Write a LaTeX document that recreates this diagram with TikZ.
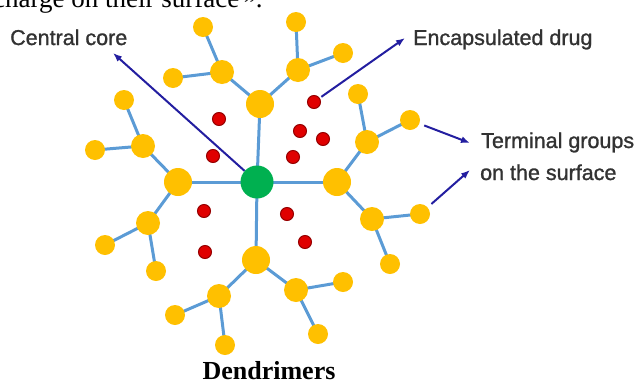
\documentclass[tikz,border=0pt]{standalone}
\usepackage{fontspec}
\setmainfont{Liberation Serif}
\newfontfamily\lsans[FakeBold=1.2]{Liberation Sans}
\usetikzlibrary{arrows.meta}
\pgfdeclarelayer{background}
\pgfsetlayers{background,main}
\definecolor{gold}{RGB}{255,192,0}
\definecolor{coregreen}{RGB}{0,176,80}
\definecolor{drugred}{RGB}{224,0,0}
\definecolor{drugdark}{RGB}{150,0,0}
\definecolor{bondblue}{RGB}{91,155,213}
\definecolor{arrowblue}{RGB}{35,30,160}
\definecolor{labelgray}{RGB}{50,50,50}
\tikzset{
  corenode/.style={circle, fill=coregreen, minimum size=33pt, inner sep=0pt},
  genone/.style={circle, fill=gold, minimum size=28pt, inner sep=0pt},
  gentwo/.style={circle, fill=gold, minimum size=24pt, inner sep=0pt},
  termnode/.style={circle, fill=gold, minimum size=20pt, inner sep=0pt},
  drugnode/.style={circle, fill=drugred, draw=drugdark, line width=1pt, minimum size=13pt, inner sep=0pt},
  bond/.style={draw=bondblue, line width=3pt},
  pointer/.style={draw=arrowblue, line width=2pt, -{Latex[length=9pt,width=7pt]}},
  callout/.style={text=labelgray, font=\lsans\fontsize{21.5}{25}\selectfont, inner sep=0pt, anchor=base west},
}
\begin{document}
\begin{tikzpicture}[x=1pt,y=-1pt]
\useasboundingbox (0,0) rectangle (640,381);
\begin{scope}
\clip (0,0) rectangle (640,381);
\node[anchor=base west, inner sep=0pt, font=\fontsize{27}{30}\selectfont] (toptext) at (-7,7) {charge on their surface\,\raisebox{-6pt}{”}.};
\end{scope}

% core and first generation
\node[corenode] (core) at (257,182) {};
\node[genone] (U) at (260,104) {};
\node[genone] (L) at (178,182) {};
\node[genone] (R) at (337,182) {};
\node[genone] (D) at (256,260) {};
% second generation
\node[gentwo] (U1) at (222,72) {};
\node[gentwo] (U2) at (298,70) {};
\node[gentwo] (L1) at (143,146) {};
\node[gentwo] (L2) at (148,223) {};
\node[gentwo] (D1) at (219,296) {};
\node[gentwo] (D2) at (296,290) {};
\node[gentwo] (R1) at (367,142) {};
\node[gentwo] (R2) at (372,219) {};
% terminal groups
\node[termnode] (U1a) at (203,27) {};
\node[termnode] (U1b) at (173,78) {};
\node[termnode] (U2a) at (296,22) {};
\node[termnode] (U2b) at (343,53) {};
\node[termnode] (L1a) at (124,100) {};
\node[termnode] (L1b) at (95,150) {};
\node[termnode] (L2a) at (105,245) {};
\node[termnode] (L2b) at (156,271) {};
\node[termnode] (D1a) at (175,315) {};
\node[termnode] (D1b) at (225,345) {};
\node[termnode] (D2a) at (343,282) {};
\node[termnode] (D2b) at (318,334) {};
\node[termnode] (R1a) at (358,94) {};
\node[termnode] (R1b) at (410,120) {};
\node[termnode] (R2a) at (420,214) {};
\node[termnode] (R2b) at (390,264) {};
% drug molecules
\node[drugnode] (d1) at (219,119) {};
\node[drugnode] (d2) at (213,156) {};
\node[drugnode] (d3) at (314,102) {};
\node[drugnode] (d4) at (300,131) {};
\node[drugnode] (d5) at (323,139) {};
\node[drugnode] (d6) at (293,157) {};
\node[drugnode] (d7) at (204,211) {};
\node[drugnode] (d8) at (205,252) {};
\node[drugnode] (d9) at (287,214) {};
\node[drugnode] (d10) at (305,242) {};

\begin{pgfonlayer}{background}
\foreach \a/\b in {core/U,core/L,core/R,core/D,
  U/U1,U/U2,L/L1,L/L2,D/D1,D/D2,R/R1,R/R2,
  U1/U1a,U1/U1b,U2/U2a,U2/U2b,L1/L1a,L1/L1b,L2/L2a,L2/L2b,
  D1/D1a,D1/D1b,D2/D2a,D2/D2b,R1/R1a,R1/R1b,R2/R2a,R2/R2b}
  \draw[bond] (\a.center) -- (\b.center);
\end{pgfonlayer}

% labels
\node[callout] (lcore) at (10,45) {Central core};
\node[callout] (ldrug) at (413,45) {Encapsulated drug};
\node[callout] (lterm) at (481,148) {Terminal groups};
\node[callout] (lsurf) at (480,180) {on the surface};
\node[anchor=base, inner sep=0pt, font=\bfseries\fontsize{26}{28}\selectfont] (title) at (269,379) {Dendrimers};

% pointers
\coordinate (cctip) at (113,53);
\coordinate (edtip) at (405,38);
\coordinate (tgtip) at (470,143);
\coordinate (ostip) at (470,170);
\draw[pointer] (core) -- (cctip);
\draw[pointer, shorten <=2pt] (d3) -- (edtip);
\draw[pointer, shorten <=5pt] (R1b) -- (tgtip);
\draw[pointer, shorten <=5pt] (R2a) -- (ostip);
\end{tikzpicture}
\end{document}
